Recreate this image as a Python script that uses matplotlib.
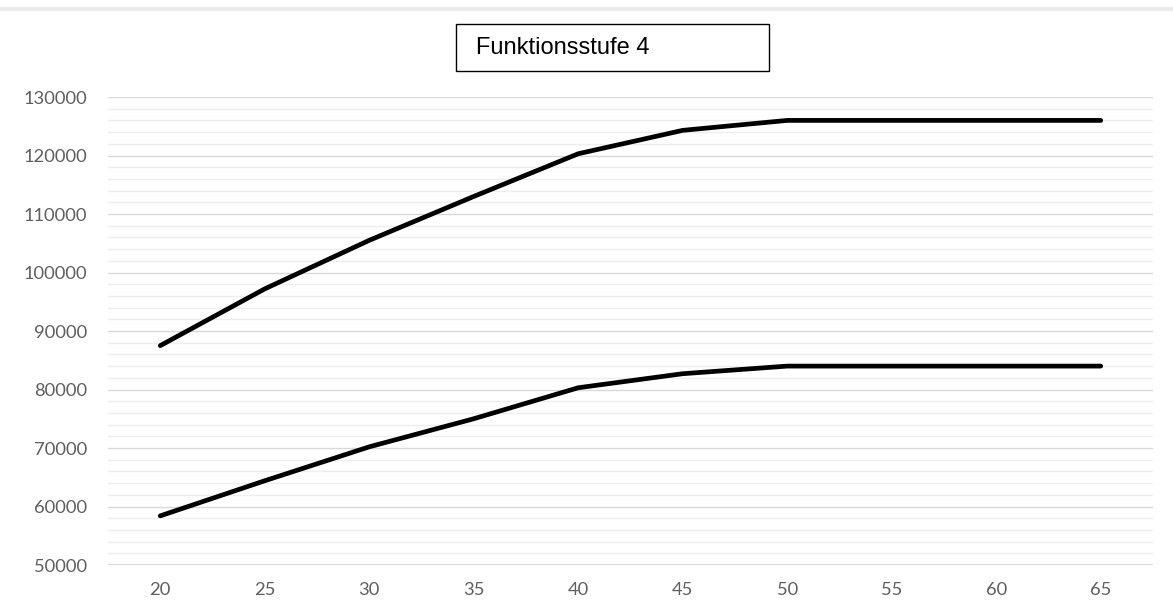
import matplotlib.pyplot as plt
import matplotlib.ticker as ticker

ages = [20, 25, 30, 35, 40, 45, 50, 55, 60, 65]
upper = [87500, 97200, 105500, 113000, 120300, 124300, 126000, 126000, 126000, 126000]
lower = [58400, 64400, 70200, 75000, 80300, 82700, 84000, 84000, 84000, 84000]
title = "Funktionsstufe 4"

plt.rcParams['font.family'] = ['Lato', 'DejaVu Sans']

fig = plt.figure(figsize=(11.73, 6.12), dpi=100)
ax = fig.add_axes([108 / 1173, 47 / 612, 1045 / 1173, 468 / 612])

ax.plot(ages, upper, color='black', lw=3.4, solid_capstyle='round', zorder=3)
ax.plot(ages, lower, color='black', lw=3.4, solid_capstyle='round', zorder=3)

ax.set_xlim(17.5, 67.5)
ax.set_ylim(50000, 130000)
ax.set_xticks(ages)
ax.yaxis.set_major_locator(ticker.MultipleLocator(10000))
ax.yaxis.set_minor_locator(ticker.MultipleLocator(2000))
ax.grid(True, axis='y', which='major', color='#d9d9d9', lw=1.0)
ax.grid(True, axis='y', which='minor', color='#eeeeee', lw=1.0)
ax.axhline(50000, color='#d0d0d0', lw=1.2, zorder=2)
for s in ax.spines.values():
	s.set_visible(False)
ax.tick_params(axis='both', which='both', length=0, colors='#5f5f5f', labelsize=13.2)
ax.tick_params(axis='y', pad=15)
ax.tick_params(axis='x', pad=12)

# thin grey border at the top of the picture
fig.add_artist(plt.Line2D([0, 1], [0.985, 0.985], color='#ececec', lw=3))

fig.text(476 / 1173, 1 - 48 / 612, title, fontsize=17, family=['Liberation Sans'],
	va='center', ha='left')
fig.add_artist(plt.Rectangle((456 / 1173, 1 - 71 / 612), 313 / 1173, 47 / 612,
	fill=False, edgecolor='black', lw=1.0))

fig.savefig('out.png', dpi=100)
